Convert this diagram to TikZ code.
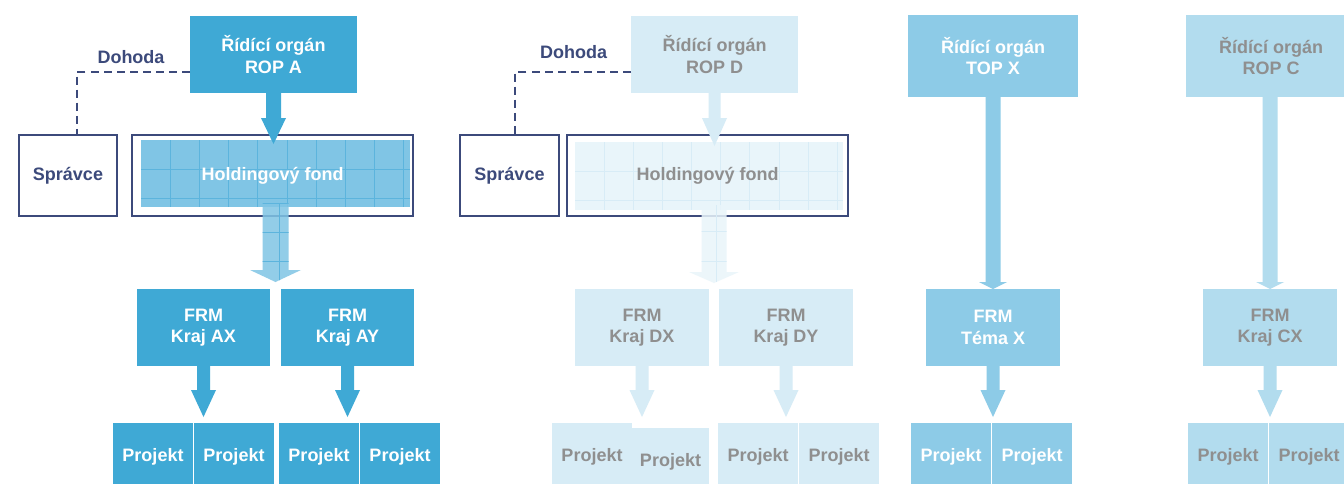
\documentclass[tikz,border=0pt]{standalone}
\usepackage{fontspec}
\setmainfont{Liberation Sans}
\usetikzlibrary{calc}
\definecolor{colA}{HTML}{3FA9D5}
\definecolor{navy}{HTML}{3C4A7B}
\definecolor{gfillA}{HTML}{80C5E5}
\definecolor{glineA}{HTML}{5CB4DD}
\definecolor{colD}{HTML}{D7ECF6}
\definecolor{gfillD}{HTML}{E9F5FA}
\definecolor{glineD}{HTML}{D8ECF6}
\definecolor{txtgray}{HTML}{8F8F8F}
\definecolor{colX}{HTML}{8DCBE7}
\definecolor{colC}{HTML}{B2DCEE}
\newcommand\bx[7]{%
  \node[#6, minimum width={(#4-#2)*0.75pt}, minimum height={(#5-#3)*0.75pt}] (#1) at ({(#2+#4)/2},{(#3+#5)/2}) {#7};}
\newcommand\arrowpath[5]{%
  ($(#1)+(-#3,0)$) -- ($(#1)+(#3,0)$) -- ($(#1 |- #2)+(#3,-#5)$) -- ($(#1 |- #2)+(#4,-#5)$) -- (#1 |- #2) -- ($(#1 |- #2)+(-#4,-#5)$) -- ($(#1 |- #2)+(-#3,-#5)$) -- cycle}
\tikzset{
  box/.style={rectangle, inner sep=0pt, outer sep=0pt, align=center,
    font=\bfseries\fontsize{13.5}{16.1}\selectfont},
  fullA/.style={box, fill=colA, text=white},
  fullD/.style={box, fill=colD, text=txtgray},
  fullX/.style={box, fill=colX, text=white},
  fullC/.style={box, fill=colC, text=txtgray},
  outl/.style={box, draw=navy, line width=1.5pt, text=navy},
  hfA/.style={box, draw=navy, line width=1.5pt, text=white},
  hfD/.style={box, draw=navy, line width=1.5pt, text=txtgray},
  lbl/.style={font=\bfseries\fontsize{13.5}{16.1}\selectfont, text=navy, inner sep=0pt},
  dashline/.style={draw=navy, line width=1.5pt, dash pattern=on 6pt off 3.8pt},
  gridA/.style={draw=glineA, line width=0.6pt},
  gridD/.style={draw=glineD, line width=0.6pt},
}
\begin{document}
\begin{tikzpicture}[x=0.75pt,y=-0.75pt]
\clip (0,0) rectangle (1344,483);
\fill[white] (0,0) rectangle (1344,483);

% ================= Panel A =================
\bx{ropA}{190}{16}{357}{93}{fullA}{Řídící orgán\\ROP A}
\bx{sprA}{19}{135}{117}{216}{outl}{Správce}
% grid fill of holding fund A
\fill[gfillA] (141,140) rectangle (410,207);
\begin{scope}
  \clip (141,140) rectangle (410,207);
  \foreach \i in {0,...,8} \draw[gridA] ({170.2+29.2*\i},140) -- ++(0,67);
  \foreach \j in {0,1} \draw[gridA] (141,{169+29.2*\j}) -- ++(269,0);
\end{scope}
\bx{hfA}{132}{135}{413}{216}{hfA}{Holdingový fond}
\bx{frmAX}{137}{289}{270}{366}{fullA}{FRM\\Kraj AX}
\bx{frmAY}{281}{289}{414}{366}{fullA}{FRM\\Kraj AY}
\bx{pA1}{113}{423}{193}{491}{fullA}{Projekt}
\bx{pA2}{194}{423}{274}{491}{fullA}{Projekt}
\bx{pA3}{279}{423}{359}{491}{fullA}{Projekt}
\bx{pA4}{360}{423}{440}{491}{fullA}{Projekt}
\node[lbl, anchor=base] (dohA) at (131,63) {Dohoda};
\coordinate (dA) at ($(sprA.north)+(9,0)$);
\draw[dashline] ($(ropA.south west)+(0,-21)$) -| (dA);
% arrows
\coordinate (tA1) at ($(ropA.south |- hfA.north)+(0,9)$);
\fill[colA] \arrowpath{ropA.south}{tA1}{7.5}{12.5}{26};
\coordinate (tA2) at ($(frmAX.north east)!0.5!(frmAY.north west)+(0,-7)$);
\coordinate (sA2) at ($(tA2 |- hfA.south)+(0,-13)$);
\fill[gfillA, fill opacity=0.85] \arrowpath{sA2}{tA2}{13}{25.5}{12};
\begin{scope}
  \clip \arrowpath{sA2}{tA2}{13}{25.5}{12};
  \draw[gridA] (279,200) -- (279,290);
  \draw[gridA] (250,203.5) -- (302,203.5);
  \draw[gridA] (250,232) -- (302,232);
  \draw[gridA] (250,261) -- (302,261);
\end{scope}
\coordinate (tA3) at ($(frmAX.south |- pA1.north)+(0,-6)$);
\fill[colA] \arrowpath{frmAX.south}{tA3}{6.5}{12.5}{27};
\coordinate (tA4) at ($(frmAY.south |- pA3.north)+(0,-6)$);
\fill[colA] \arrowpath{frmAY.south}{tA4}{6.5}{12.5}{27};

% ================= Panel D =================
\bx{ropD}{631}{16}{798}{93}{fullD}{Řídící orgán\\ROP D}
\bx{sprD}{460}{135}{559}{216}{outl}{Správce}
\fill[gfillD] (575,142) rectangle (843,210);
\begin{scope}
  \clip (575,142) rectangle (843,210);
  \foreach \i in {0,...,8} \draw[gridD] ({604.3+29.1*\i},142) -- ++(0,68);
  \foreach \j in {0,1} \draw[gridD] (575,{171.7+29.1*\j}) -- ++(268,0);
\end{scope}
\bx{hfD}{567}{135}{848}{216}{hfD}{Holdingový fond}
\bx{frmDX}{575}{289}{709}{366}{fullD}{FRM\\Kraj DX}
\bx{frmDY}{719}{289}{853}{366}{fullD}{FRM\\Kraj DY}
\bx{pD1}{552}{423}{632}{491}{fullD}{Projekt}
\bx{pD2}{632}{428}{709}{496}{fullD}{Projekt}
\bx{pD3}{718}{423}{798}{491}{fullD}{Projekt}
\bx{pD4}{799}{423}{879}{491}{fullD}{Projekt}
\node[lbl, anchor=base] (dohD) at (573.5,58) {Dohoda};
\coordinate (dD) at ($(sprD.north)+(5.5,0)$);
\draw[dashline] ($(ropD.south west)+(0,-21)$) -| (dD);
\coordinate (tD1) at ($(ropD.south |- hfD.north)+(0,11)$);
\fill[colD] \arrowpath{ropD.south}{tD1}{6}{12.5}{28};
\coordinate (tD2) at ($(frmDX.north east)!0.5!(frmDY.north west)+(0,-6)$);
\coordinate (sD2) at ($(tD2 |- hfD.south)+(0,-11)$);
\fill[gfillD, fill opacity=0.85] \arrowpath{sD2}{tD2}{12.5}{25}{11};
\begin{scope}
  \clip \arrowpath{sD2}{tD2}{12.5}{25}{11};
  \draw[gridD] (716.7,200) -- (716.7,290);
  \draw[gridD] (688,231.7) -- (740,231.7);
  \draw[gridD] (688,261.7) -- (740,261.7);
\end{scope}
\coordinate (tD3) at ($(frmDX.south |- pD1.north)+(0,-6)$);
\fill[colD] \arrowpath{frmDX.south}{tD3}{6.5}{12.5}{27};
\coordinate (tD4) at ($(frmDY.south |- pD3.north)+(0,-6)$);
\fill[colD] \arrowpath{frmDY.south}{tD4}{6.5}{12.5}{27};

% ================= Panel X =================
\bx{ropX}{908}{15}{1078}{97}{fullX}{Řídící orgán\\TOP X}
\bx{frmX}{926}{289}{1060}{366}{fullX}{FRM\\Téma X}
\bx{pX1}{911}{423}{991}{491}{fullX}{Projekt}
\bx{pX2}{992}{423}{1072}{491}{fullX}{Projekt}
\fill[colX] \arrowpath{ropX.south}{frmX.north}{7.5}{14}{7};
\coordinate (tX2) at ($(frmX.south |- pX1.north)+(0,-6)$);
\fill[colX] \arrowpath{frmX.south}{tX2}{6.5}{12.5}{27};

% ================= Panel C =================
\bx{ropC}{1186}{15}{1356}{97}{fullC}{Řídící orgán\\ROP C}
\bx{frmC}{1203}{289}{1337}{366}{fullC}{FRM\\Kraj CX}
\bx{pC1}{1188}{423}{1268}{491}{fullC}{Projekt}
\bx{pC2}{1269}{423}{1349}{491}{fullC}{Projekt}
\coordinate (sC1) at (ropC.south -| frmC.north);
\fill[colC] \arrowpath{sC1}{frmC.north}{7.5}{14}{7};
\coordinate (tC2) at ($(frmC.south |- pC1.north)+(0,-6)$);
\fill[colC] \arrowpath{frmC.south}{tC2}{6.5}{12.5}{27};
\end{tikzpicture}
\end{document}
